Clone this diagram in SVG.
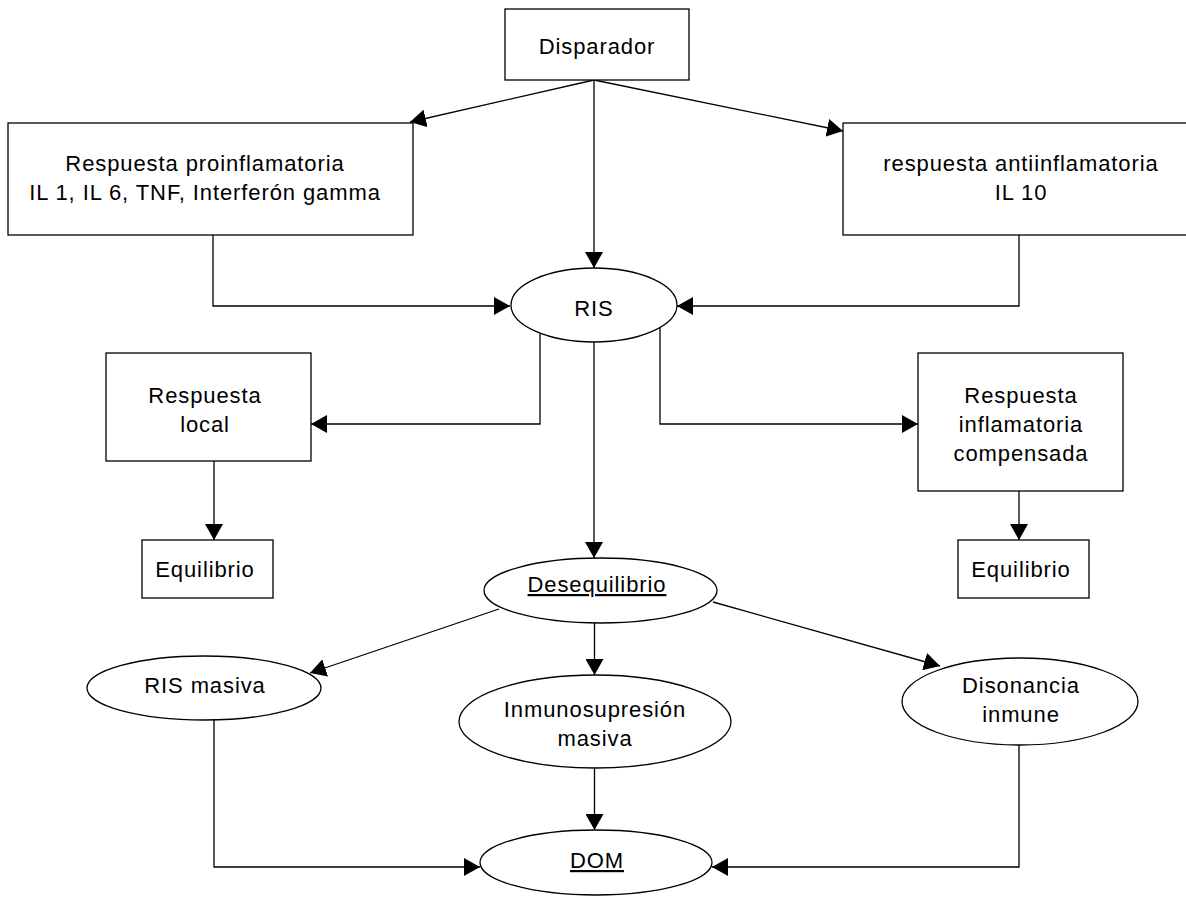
<svg xmlns="http://www.w3.org/2000/svg" width="1186" height="898" viewBox="0 0 1186 898">
<style>
.n{fill:#fff;stroke:#000;stroke-width:1.3}
.t{font-family:"Liberation Sans",Arial,sans-serif;font-size:22px;letter-spacing:0.9px;fill:#000;text-anchor:middle}
.u{text-decoration:underline}
.c{fill:none;stroke:#000;stroke-width:1.3}
</style>
<defs>
<marker id="a" markerUnits="userSpaceOnUse" markerWidth="17" markerHeight="18" refX="16" refY="9" orient="auto" viewBox="0 0 17 18">
<path d="M0,0 L16,9 L0,18 z" fill="#000"/>
</marker>
</defs>
<rect width="1186" height="898" fill="#fff"/>
<g id="connectors">
<path class="c" d="M594,80 L410,122" marker-end="url(#a)"/>
<path class="c" d="M594,80 L843,131" marker-end="url(#a)"/>
<path class="c" d="M594,80 L594,268" marker-end="url(#a)"/>
<path class="c" d="M213,235 L213,306 L510,306" marker-end="url(#a)"/>
<path class="c" d="M1019,235 L1019,306 L677,306" marker-end="url(#a)"/>
<path class="c" d="M540,333 L540,424 L311,424" marker-end="url(#a)"/>
<path class="c" d="M660,328 L660,424 L918,424" marker-end="url(#a)"/>
<path class="c" d="M594,342 L594,558" marker-end="url(#a)"/>
<path class="c" d="M214,461 L214,540" marker-end="url(#a)"/>
<path class="c" d="M1019,491 L1019,540" marker-end="url(#a)"/>
<path class="c" d="M499,609 L310,673" marker-end="url(#a)"/>
<path class="c" d="M594.5,623 L594.5,675" marker-end="url(#a)"/>
<path class="c" d="M713,602 L940,666" marker-end="url(#a)"/>
<path class="c" d="M214,720 L214,867 L480,867" marker-end="url(#a)"/>
<path class="c" d="M594.5,768 L594.5,830" marker-end="url(#a)"/>
<path class="c" d="M1019,745 L1019,867 L712,867" marker-end="url(#a)"/>
</g>
<g id="disparador">
<rect class="n" x="505" y="9" width="184" height="71"/>
<text class="t" x="597" y="54">Disparador</text>
</g>
<g id="proinflamatoria">
<rect class="n" x="8" y="123" width="405" height="112"/>
<text class="t" x="205" y="171">Respuesta proinflamatoria</text>
<text class="t" x="205" y="200">IL 1, IL 6, TNF, Interferón gamma</text>
</g>
<g id="antiinflamatoria">
<rect class="n" x="843" y="123" width="350" height="112"/>
<text class="t" x="1021" y="171">respuesta antiinflamatoria</text>
<text class="t" x="1021" y="200">IL 10</text>
</g>
<g id="ris">
<ellipse class="n" cx="594" cy="305" rx="83" ry="37"/>
<text class="t" x="594" y="316">RIS</text>
</g>
<g id="respuesta-local">
<rect class="n" x="106" y="353" width="205" height="108"/>
<text class="t" x="205" y="403">Respuesta</text>
<text class="t" x="205" y="432">local</text>
</g>
<g id="respuesta-compensada">
<rect class="n" x="918" y="353" width="205" height="138"/>
<text class="t" x="1021" y="403">Respuesta</text>
<text class="t" x="1021" y="432">inflamatoria</text>
<text class="t" x="1021" y="461">compensada</text>
</g>
<g id="equilibrio-izq">
<rect class="n" x="142" y="540" width="131" height="58"/>
<text class="t" x="205" y="577">Equilibrio</text>
</g>
<g id="equilibrio-der">
<rect class="n" x="958" y="540" width="131" height="58"/>
<text class="t" x="1021" y="577">Equilibrio</text>
</g>
<g id="desequilibrio">
<ellipse class="n" cx="600.5" cy="590.5" rx="116.5" ry="32.5"/>
<text class="t u" x="597" y="592">Desequilibrio</text>
</g>
<g id="ris-masiva">
<ellipse class="n" cx="204" cy="688" rx="117" ry="32"/>
<text class="t" x="205" y="693">RIS masiva</text>
</g>
<g id="inmunosupresion">
<ellipse class="n" cx="595" cy="721.5" rx="136" ry="46.5"/>
<text class="t" x="595" y="717">Inmunosupresión</text>
<text class="t" x="595" y="746">masiva</text>
</g>
<g id="disonancia">
<ellipse class="n" cx="1020" cy="701.5" rx="118" ry="43.5"/>
<text class="t" x="1021" y="693">Disonancia</text>
<text class="t" x="1021" y="722">inmune</text>
</g>
<g id="dom">
<ellipse class="n" cx="596" cy="862.5" rx="116" ry="32.5"/>
<text class="t u" x="597" y="868">DOM</text>
</g>
</svg>
